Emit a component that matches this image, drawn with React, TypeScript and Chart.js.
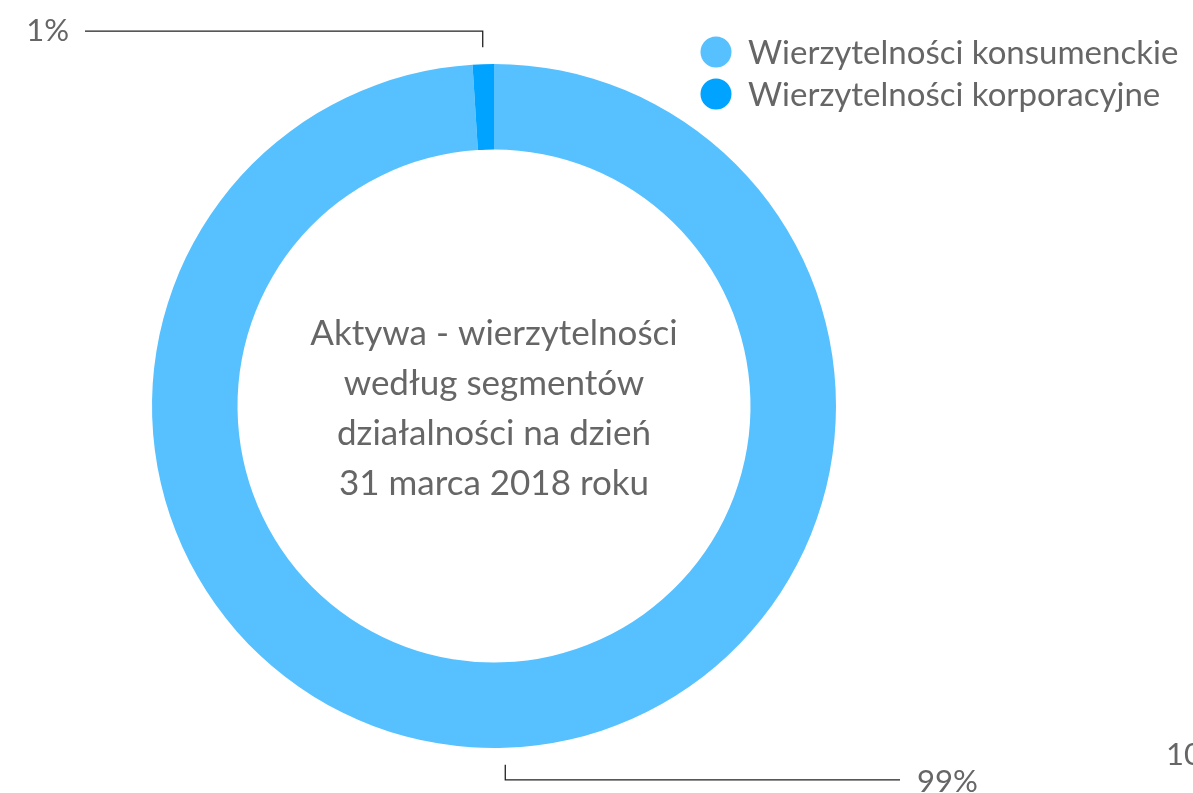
import React, { useEffect, useRef } from "react";
import { Chart, registerables } from "chart.js";

Chart.register(...registerables);

const categories = ["Wierzytelności konsumenckie", "Wierzytelności korporacyjne"];
const shares = [99, 1];
const shareLabels = ["99%", "1%"];
const colors = ["#57C1FF", "#00A3FF"];
const centerLines = [
  "Aktywa - wierzytelności",
  "według segmentów",
  "działalności na dzień",
  "31 marca 2018 roku",
];
const cutLabel = "100%";

const FONT = "Lato, 'Open Sans', sans-serif";
const GRAY = "#666666";

const overlayPlugin = {
  id: "overlay",
  afterDraw(chart: any) {
    const ctx = chart.ctx as CanvasRenderingContext2D;
    const meta = chart.getDatasetMeta(0);
    ctx.save();
    // center text
    const first = meta.data[0] as any;
    const cx = first.x;
    const cy = first.y;
    ctx.fillStyle = GRAY;
    ctx.font = `35px ${FONT}`;
    ctx.textAlign = "center";
    ctx.textBaseline = "alphabetic";
    const lh = 50;
    const startY = cy - (lh * (centerLines.length - 1)) / 2 + 14;
    centerLines.forEach((l, i) => ctx.fillText(l, cx, startY + i * lh));

    // leader lines + labels
    meta.data.forEach((arc: any, i: number) => {
      const mid = (arc.startAngle + arc.endAngle) / 2;
      const r = arc.outerRadius + 17;
      const px = arc.x + Math.cos(mid) * r;
      const py = arc.y + Math.sin(mid) * r;
      const up = py < arc.y;
      const ey = up ? py - 16 : py + 15;
      const left = px < arc.x;
      const ex = left ? 85 : 900;
      ctx.strokeStyle = "#222";
      ctx.lineWidth = 1.3;
      ctx.beginPath();
      ctx.moveTo(px, py);
      ctx.lineTo(px, ey);
      ctx.lineTo(ex, ey);
      ctx.stroke();
      ctx.fillStyle = GRAY;
      ctx.font = `31px ${FONT}`;
      ctx.textBaseline = "alphabetic";
      ctx.textAlign = left ? "right" : "left";
      ctx.fillText(shareLabels[i], left ? ex - 16 : ex + 17, up ? ey + 10 : ey + 12);
    });

    // legend
    ctx.textAlign = "left";
    ctx.textBaseline = "alphabetic";
    ctx.font = `33px ${FONT}`;
    categories.forEach((c, i) => {
      const y = 52 + i * 42;
      ctx.fillStyle = colors[i];
      ctx.beginPath();
      ctx.arc(716, y, 15.5, 0, Math.PI * 2);
      ctx.fill();
      ctx.fillStyle = GRAY;
      ctx.fillText(c, 748, y + 12);
    });

    // clipped label at right edge
    ctx.font = `31px ${FONT}`;
    ctx.textAlign = "left";
    ctx.textBaseline = "alphabetic";
    ctx.fillText(cutLabel, 1166, 765);
    ctx.restore();
  },
};

export default function App() {
  const ref = useRef<HTMLCanvasElement | null>(null);
  useEffect(() => {
    document.body.style.margin = "0";
    const chart = new Chart(ref.current as HTMLCanvasElement, {
      type: "doughnut",
      data: {
        labels: categories,
        datasets: [
          {
            data: shares,
            backgroundColor: colors,
            borderColor: "#ffffff",
            borderWidth: 0,
          },
        ],
      },
      options: {
        responsive: false,
        animation: false,
        cutout: "75%",
        layout: { padding: { left: 152, right: 357, top: 64, bottom: 45 } },
        plugins: { legend: { display: false }, tooltip: { enabled: false } },
      },
      plugins: [overlayPlugin],
    });
    return () => chart.destroy();
  }, []);
  return (
    <div style={{ position: "fixed", left: 0, top: 0, width: 1193, height: 793, background: "#fff" }}>
      <canvas ref={ref} width={1193} height={793} style={{ width: 1193, height: 793 }} />
    </div>
  );
}
